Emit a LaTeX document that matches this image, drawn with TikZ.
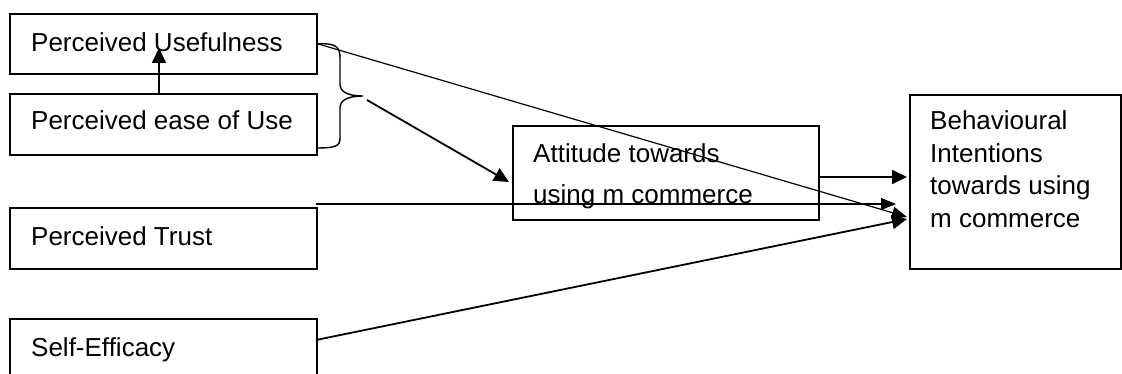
\documentclass[tikz,border=0pt]{standalone}
\usepackage{fontspec}
\setmainfont{Liberation Sans}
\usetikzlibrary{arrows.meta}
\begin{document}
\begin{tikzpicture}[x=1pt,y=-1pt,
  box/.style={draw,line width=1.6pt,inner sep=0pt,anchor=north west},
  lbl/.style={anchor=base west,inner sep=0pt,font=\fontsize{26}{31}\selectfont},
  arr/.style={line width=1.8pt,-{Triangle[length=15pt,width=14pt]}},
  thinarr/.style={line width=1.2pt,-{Triangle[length=15pt,width=12pt]}}]
\useasboundingbox (0,0) rectangle (1122,374);
\clip (0,0) rectangle (1122,374);
% boxes
\node[box,minimum width=307pt,minimum height=60pt] (pu) at (9,13) {};
\node[box,minimum width=307pt,minimum height=61pt] (peu) at (9,93) {};
\node[box,minimum width=307pt,minimum height=61pt] (trust) at (9,207) {};
\node[box,minimum width=307pt,minimum height=90pt] (se) at (9,318) {};
\node[box,minimum width=306pt,minimum height=94pt] (att) at (512,125) {};
\node[box,minimum width=211pt,minimum height=174pt] (bi) at (909,94) {};
% texts
\node[lbl] (tpu) at (31,52) {Perceived Usefulness};
\node[lbl] (tpeu) at (31,130) {Perceived ease of Use};
\node[lbl] (ttrust) at (31,246) {Perceived Trust};
\node[lbl] (tse) at (31,356) {Self-Efficacy};
\node[lbl] (tatt1) at (533,163) {Attitude towards};
\node[lbl] (tatt2) at (533,204) {using m commerce};
\node[lbl] (tbi1) at (930,130) {Behavioural};
\node[lbl] (tbi2) at (930,163) {Intentions};
\node[lbl] (tbi3) at (930,195) {towards using};
\node[lbl] (tbi4) at (930,228) {m commerce};
% coordinates
\coordinate (peutop) at (159,93);
\coordinate (putip) at (159,48);
\coordinate (bracetip) at (363,96);
\coordinate (bracefrom) at (367,100);
\coordinate (attin) at (509,182);
\coordinate (attout) at (818,177);
\coordinate (bitop) at (907,177);
\coordinate (bimid) at (907,217);
\coordinate (bilow) at (907,219);
\coordinate (trustfrom) at (316,204);
\coordinate (trusttip) at (896,204);
\coordinate (sefrom) at (316,340);
% arrows
\draw[arr] (peutop) -- (putip);
\draw[line width=1.4pt] (pu.east) .. controls (336,43) and (340,47) .. (340,58)
   -- (340,84) .. controls (340,93) and (350,96) .. (bracetip)
   .. controls (350,96) and (340,99) .. (340,108)
   -- (340,138) .. controls (340,146) and (336,148) .. (316,148);
\draw[arr] (bracefrom) -- (attin);
\draw[thinarr] (pu.east) -- (bimid);
\draw[arr] (attout) -- (bitop);
\draw[thinarr] (trustfrom) -- (trusttip);
\draw[arr] (sefrom) -- (bilow);
\end{tikzpicture}
\end{document}
